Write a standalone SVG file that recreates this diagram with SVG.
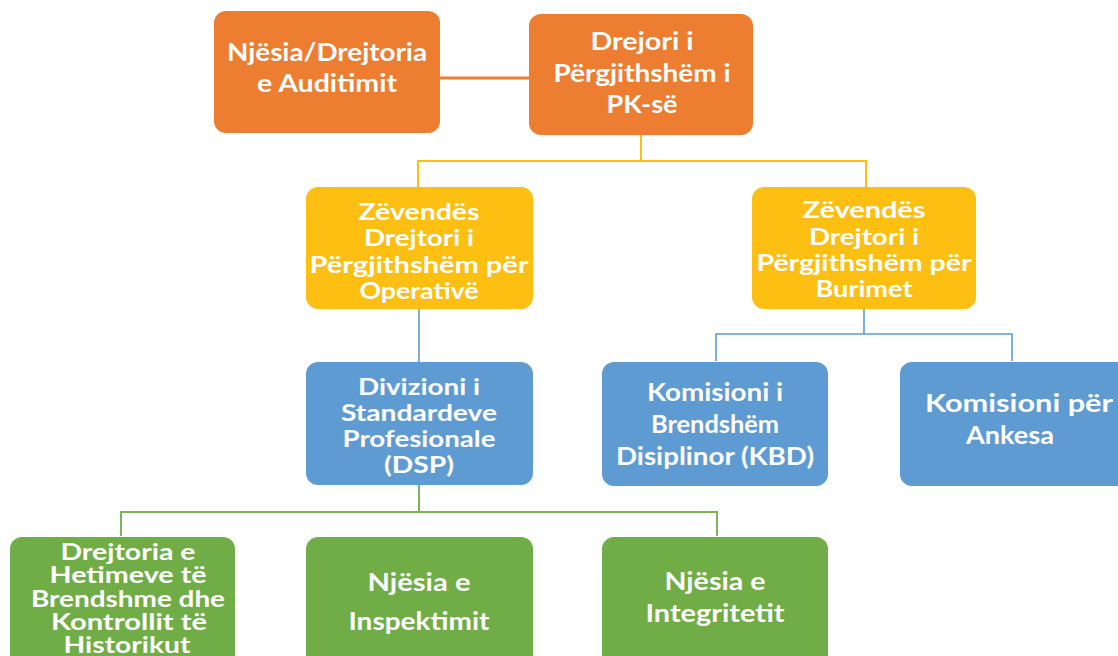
<svg xmlns="http://www.w3.org/2000/svg" width="1118" height="656" viewBox="0 0 1118 656">
<style>
.box{stroke:none}
.o{fill:#ED7D31}.y{fill:#FCBF12}.b{fill:#5F9BD3}.g{fill:#70AD47}
text{font-family:Lato,"Open Sans","Liberation Sans",sans-serif;font-weight:bold;fill:#fff;text-anchor:middle}
.f25{font-size:25px}.f23{font-size:23px}.f24{font-size:24px}
.co{stroke:#ED7D31;stroke-width:3;fill:none}
.cy{stroke:#FCBF12;stroke-width:2;fill:none}
.cb{stroke:#5F9BD3;stroke-width:1.6;fill:none}
.cg{stroke:#7DB556;stroke-width:2;fill:none}
</style>
<rect width="1118" height="656" fill="#fff"/>
<g id="connectors">
<path class="co" d="M440 78H529"/>
<path class="cy" d="M641 135V161M418 187V161H866V187"/>
<path class="cb" d="M419 309V362"/>
<path class="cb" d="M864 309V334M716 361V334H1012V361"/>
<path class="cg" d="M419 485V512M121 536V512H717V536"/>
</g>
<g id="n-audit">
<rect class="box o" x="214" y="11" width="226" height="122" rx="12"/>
<text class="f25" x="327" y="61" textLength="200" lengthAdjust="spacingAndGlyphs">Njësia/Drejtoria</text>
<text class="f25" x="327" y="92" textLength="140" lengthAdjust="spacingAndGlyphs">e Auditimit</text>
</g>
<g id="n-director">
<rect class="box o" x="529" y="14" width="224" height="121" rx="12"/>
<text class="f25" x="642" y="50" textLength="103" lengthAdjust="spacingAndGlyphs">Drejori i</text>
<text class="f25" x="642" y="82" textLength="177" lengthAdjust="spacingAndGlyphs">Përgjithshëm i</text>
<text class="f25" x="642" y="113" textLength="71" lengthAdjust="spacingAndGlyphs">PK-së</text>
</g>
<g id="n-dep-op">
<rect class="box y" x="306" y="187" width="227" height="122" rx="12"/>
<text class="f23" x="419" y="220" textLength="121" lengthAdjust="spacingAndGlyphs">Zëvendës</text>
<text class="f23" x="419" y="246" textLength="110" lengthAdjust="spacingAndGlyphs">Drejtori i</text>
<text class="f23" x="419" y="273" textLength="219" lengthAdjust="spacingAndGlyphs">Përgjithshëm për</text>
<text class="f23" x="419" y="299" textLength="119" lengthAdjust="spacingAndGlyphs">Operativë</text>
</g>
<g id="n-dep-res">
<rect class="box y" x="752" y="187" width="224" height="122" rx="12"/>
<text class="f23" x="864" y="218" textLength="123" lengthAdjust="spacingAndGlyphs">Zëvendës</text>
<text class="f23" x="864" y="245" textLength="110" lengthAdjust="spacingAndGlyphs">Drejtori i</text>
<text class="f23" x="864" y="271" textLength="215" lengthAdjust="spacingAndGlyphs">Përgjithshëm për</text>
<text class="f23" x="864" y="297" textLength="97" lengthAdjust="spacingAndGlyphs">Burimet</text>
</g>
<g id="n-dsp">
<rect class="box b" x="306" y="362" width="227" height="123" rx="12"/>
<text class="f23" x="419" y="395" textLength="122" lengthAdjust="spacingAndGlyphs">Divizioni i</text>
<text class="f23" x="419" y="421" textLength="156" lengthAdjust="spacingAndGlyphs">Standardeve</text>
<text class="f23" x="419" y="447" textLength="153" lengthAdjust="spacingAndGlyphs">Profesionale</text>
<text class="f23" x="419" y="473" textLength="70" lengthAdjust="spacingAndGlyphs">(DSP)</text>
</g>
<g id="n-kbd">
<rect class="box b" x="602" y="362" width="226" height="124" rx="12"/>
<text class="f24" x="715" y="401" textLength="136" lengthAdjust="spacingAndGlyphs">Komisioni i</text>
<text class="f24" x="715" y="433" textLength="128" lengthAdjust="spacingAndGlyphs">Brendshëm</text>
<text class="f24" x="715" y="465" textLength="198" lengthAdjust="spacingAndGlyphs">Disiplinor (KBD)</text>
</g>
<g id="n-ankesa">
<rect class="box b" x="900" y="362" width="230" height="124" rx="12"/>
<text class="f24" x="1019" y="412" textLength="188" lengthAdjust="spacingAndGlyphs">Komisioni për</text>
<text class="f24" x="1010" y="444" textLength="88" lengthAdjust="spacingAndGlyphs">Ankesa</text>
</g>
<g id="n-hetime">
<rect class="box g" x="10" y="537" width="225" height="130" rx="12"/>
<text class="f23" x="128" y="560" textLength="135" lengthAdjust="spacingAndGlyphs">Drejtoria e</text>
<text class="f23" x="128" y="583" textLength="157" lengthAdjust="spacingAndGlyphs">Hetimeve të</text>
<text class="f23" x="128" y="607" textLength="194" lengthAdjust="spacingAndGlyphs">Brendshme dhe</text>
<text class="f23" x="129" y="630" textLength="156" lengthAdjust="spacingAndGlyphs">Kontrollit të</text>
<text class="f23" x="127" y="653" textLength="127" lengthAdjust="spacingAndGlyphs">Historikut</text>
</g>
<g id="n-inspekt">
<rect class="box g" x="306" y="537" width="227" height="130" rx="12"/>
<text class="f24" x="419" y="591" textLength="103" lengthAdjust="spacingAndGlyphs">Njësia e</text>
<text class="f24" x="419" y="630" textLength="141" lengthAdjust="spacingAndGlyphs">Inspektimit</text>
</g>
<g id="n-integr">
<rect class="box g" x="602" y="537" width="226" height="130" rx="12"/>
<text class="f24" x="715" y="590" textLength="101" lengthAdjust="spacingAndGlyphs">Njësia e</text>
<text class="f24" x="715" y="622" textLength="139" lengthAdjust="spacingAndGlyphs">Integritetit</text>
</g>
</svg>
